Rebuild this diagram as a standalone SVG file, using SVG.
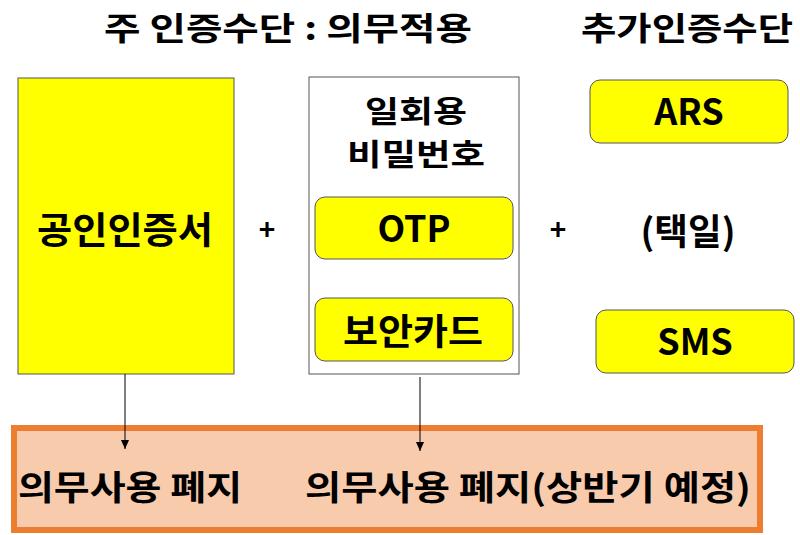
<svg xmlns="http://www.w3.org/2000/svg" width="800" height="535" viewBox="0 0 800 535">
<defs>
<style>
text{font-family:"Noto Sans CJK KR","Noto Sans",sans-serif;font-weight:bold;fill:#000;text-anchor:middle}
.y{fill:#FFFF00;stroke:#555;stroke-width:1}
.c{stroke:#000;stroke-width:1;fill:none}
</style>
<marker id="ah" markerWidth="10" markerHeight="10" refX="9" refY="5" orient="auto" markerUnits="userSpaceOnUse">
<path d="M0,1 L9,5 L0,9 Z" fill="#000"/>
</marker>
</defs>
<rect width="800" height="535" fill="#fff"/>
<g id="title-main"><text x="288" y="40" font-size="32" textLength="368" lengthAdjust="spacingAndGlyphs">주 인증수단 : 의무적용</text></g>
<g id="title-extra"><text x="687" y="40" font-size="32" textLength="212" lengthAdjust="spacingAndGlyphs">추가인증수단</text></g>

<g id="cert"><rect class="y" x="18" y="78" width="216" height="296"/><text x="125" y="244" font-size="37" textLength="176" lengthAdjust="spacingAndGlyphs">공인인증서</text></g>
<g id="plus1"><text x="267" y="240" font-size="28">+</text></g>

<g id="otp-group"><rect x="309" y="77" width="210" height="297" fill="#fff" stroke="#555" stroke-width="1"/>
<text x="416" y="122" font-size="30" textLength="102" lengthAdjust="spacingAndGlyphs">일회용</text>
<text x="416" y="165" font-size="30" textLength="138" lengthAdjust="spacingAndGlyphs">비밀번호</text></g>
<g id="otp"><rect class="y" x="315" y="197" width="198" height="62" rx="10"/><text x="414" y="242" font-size="36">OTP</text></g>
<g id="card"><rect class="y" x="315" y="298" width="198" height="63" rx="10"/><text x="413" y="345" font-size="36" textLength="140" lengthAdjust="spacingAndGlyphs">보안카드</text></g>

<g id="plus2"><text x="558" y="240" font-size="28">+</text></g>
<g id="ars"><rect class="y" x="590" y="80" width="198" height="63" rx="10"/><text x="689" y="125" font-size="36">ARS</text></g>
<g id="choose"><text x="688" y="245" font-size="36" textLength="95" lengthAdjust="spacingAndGlyphs">(택일)</text></g>
<g id="sms"><rect class="y" x="596" y="310" width="198" height="63" rx="10"/><text x="695" y="355" font-size="36">SMS</text></g>

<g id="result"><rect x="14" y="428" width="746" height="102" fill="#F8CBAD" stroke="#ED7D31" stroke-width="6"/>
<text x="130" y="500" font-size="34" textLength="224" lengthAdjust="spacingAndGlyphs">의무사용 폐지</text>
<text x="528" y="500" font-size="34" textLength="446" lengthAdjust="spacingAndGlyphs">의무사용 폐지(상반기 예정)</text></g>

<g id="connectors">
<line class="c" x1="125" y1="374" x2="125" y2="449" marker-end="url(#ah)"/>
<line class="c" x1="420" y1="377" x2="420" y2="451" marker-end="url(#ah)"/>
</g>
</svg>
